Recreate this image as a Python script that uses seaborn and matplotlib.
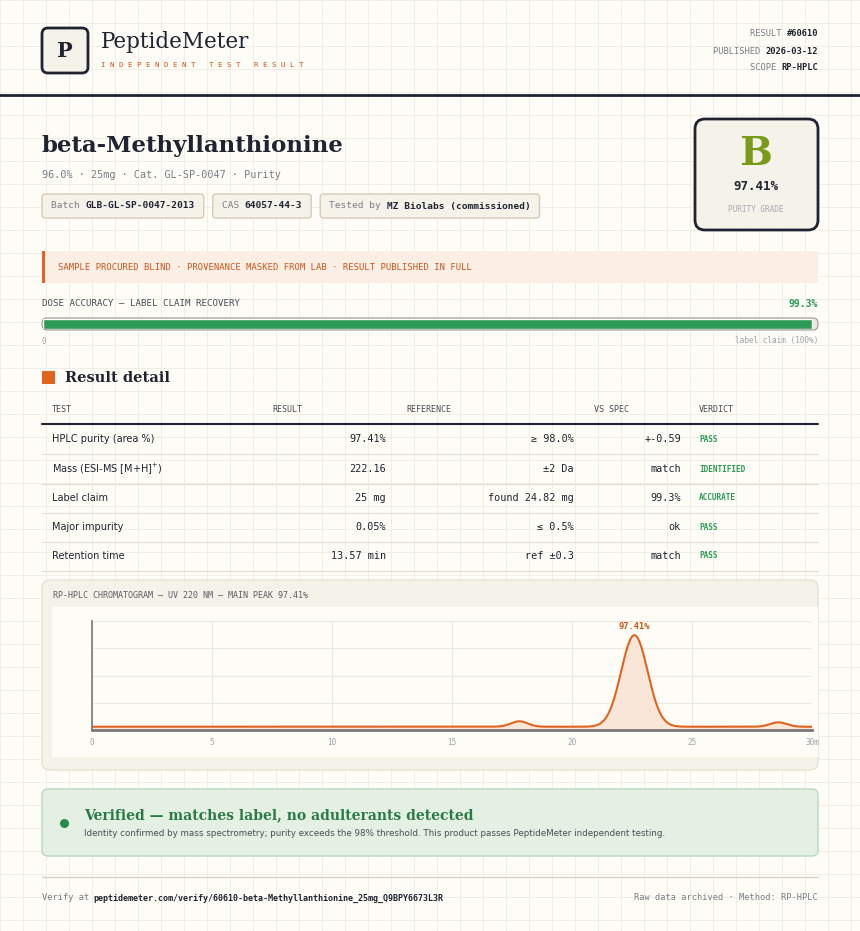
import numpy as np
import pandas as pd
import matplotlib
matplotlib.use("Agg")
import matplotlib.pyplot as plt
from matplotlib.patches import FancyBboxPatch, Rectangle
import seaborn as sns

sns.set_theme(style="white")
plt.rcParams['font.family'] = ['DejaVu Sans']

# ---------------- data ----------------
result_id = "#60610"
published = "2026-03-12"
scope = "RP-HPLC"
compound = "beta-Methyllanthionine"
subtitle = "96.0% · 25mg · Cat. GL-SP-0047 · Purity"
chips = [("Batch ", "GLB-GL-SP-0047-2013"), ("CAS ", "64057-44-3"), ("Tested by ", "MZ Biolabs (commissioned)")]
grade = "B"
purity = 97.41
dose_accuracy = 99.3
table_tests = ["HPLC purity (area %)", "Mass (ESI-MS [M+H]$^{+}$)", "Label claim", "Major impurity", "Retention time"]
table_results = ["97.41%", "222.16", "25 mg", "0.05%", "13.57 min"]
table_refs = ["≥ 98.0%", "±2 Da", "found 24.82 mg", "≤ 0.5%", "ref ±0.3"]
table_vs = ["+-0.59", "match", "99.3%", "ok", "match"]
table_verdicts = ["PASS", "IDENTIFIED", "ACCURATE", "PASS", "PASS"]
peak_centers = [17.8, 22.6, 28.6]
peak_heights = [5.0, 84.0, 4.0]
peak_widths = [0.35, 0.55, 0.35]
baseline = 3.0
x_ticks = [0, 5, 10, 15, 20, 25, 30]

DARK = "#1f2430"; ORANGE = "#c8561a"; LINE_OR = "#e0641e"; GRAY = "#7a7d85"
CARD = "#f5f2ea"; BG = "#fdfcf7"; GREEN = "#2e9a57"
MONO = "DejaVu Sans Mono"; SERIF = "DejaVu Serif"

fig = plt.figure(figsize=(8.6, 9.31), dpi=100, facecolor=BG)
ax = fig.add_axes([0, 0, 1, 1])
ax.set_xlim(0, 860); ax.set_ylim(931, 0); ax.axis("off")
for gx in np.arange(0, 861, 23):
    ax.axvline(gx, color="#f1eee6", lw=0.7, zorder=0)
for gy in np.arange(0, 932, 23):
    ax.axhline(gy, color="#f1eee6", lw=0.7, zorder=0)

def rbox(x, y, w, h, fc, ec, lw=1, r=4, z=1):
    ax.add_patch(FancyBboxPatch((x, y), w, h, boxstyle=f"round,pad=0,rounding_size={r}",
                                fc=fc, ec=ec, lw=lw, zorder=z))

# header
rbox(42, 28, 46, 45, CARD, DARK, lw=2, r=6)
ax.text(65, 51, "P", family=SERIF, weight="bold", fontsize=15, color=DARK, ha="center", va="center")
ax.text(101, 42, "PeptideMeter", family=SERIF, fontsize=15.5, color=DARK, va="center")
ax.text(101, 65, "I N D E P E N D E N T   T E S T   R E S U L T", family=MONO, fontsize=5.4, color=ORANGE, va="center")
for yy, lab, val in [(34, "RESULT ", result_id), (51, "PUBLISHED ", published), (67, "SCOPE ", scope)]:
    ax.text(818, yy, val, family=MONO, weight="bold", fontsize=6.3, color=DARK, ha="right", va="center")
    ax.text(818 - 6.3 * 0.6 * 1.39 * len(val), yy, lab, family=MONO, fontsize=6.3, color=GRAY, ha="right", va="center")
ax.plot([0, 860], [95, 95], color=DARK, lw=2)

# title block
ax.text(42, 146, compound, family=SERIF, weight="bold", fontsize=16.5, color=DARK, va="center")
ax.text(42, 175, subtitle, family=MONO, fontsize=7.3, color=GRAY, va="center")
cx = 42
for lab, val in chips:
    w = (len(lab) + len(val)) * 5.75 + 18
    rbox(cx, 194, w, 24, CARD, "#d6ccb4", lw=1, r=3)
    ax.text(cx + 9, 206, lab, family=MONO, fontsize=6.8, color=GRAY, va="center")
    ax.text(cx + 9 + len(lab) * 5.75, 206, val, family=MONO, weight="bold", fontsize=6.8, color=DARK, va="center")
    cx += w + 9

rbox(695, 119, 123, 111, CARD, DARK, lw=2, r=10)
ax.text(756, 154, grade, family=SERIF, weight="bold", fontsize=28, color="#7a9a1a", ha="center", va="center")
ax.text(756, 187, f"{purity:.2f}%", family=MONO, weight="bold", fontsize=9, color=DARK, ha="center", va="center")
ax.text(756, 209, "PURITY GRADE", family=MONO, fontsize=5.6, color="#a8aab0", ha="center", va="center")

# banner
ax.add_patch(Rectangle((42, 251), 776, 32, fc="#fbeee4", ec="none", zorder=1))
ax.add_patch(Rectangle((42, 251), 3, 32, fc=LINE_OR, ec="none", zorder=2))
ax.text(58, 267, "SAMPLE PROCURED BLIND · PROVENANCE MASKED FROM LAB · RESULT PUBLISHED IN FULL",
        family=MONO, fontsize=6.4, color=ORANGE, va="center")

# dose accuracy bar via seaborn
ax.text(42, 304, "DOSE ACCURACY — LABEL CLAIM RECOVERY", family=MONO, fontsize=6.6, color="#4a4d55", va="center")
ax.text(818, 304, f"{dose_accuracy}%", family=MONO, weight="bold", fontsize=7, color=GREEN, ha="right", va="center")
rbox(42, 318, 776, 12, "#ebe7dc", "#9a9a9a", lw=0.8, r=5)
bax = fig.add_axes([43/860, 1-329/931, 774/860, 10/931])
bax.patch.set_alpha(0)
sns.barplot(x=[dose_accuracy], y=["dose"], orient="h", color=GREEN, width=1.0, ax=bax, saturation=1)
bax.set_xlim(0, 100); bax.axis("off")
ax.text(42, 341, "0", family=MONO, fontsize=5.6, color="#a0a2a8", va="center")
ax.text(818, 341, "label claim (100%)", family=MONO, fontsize=5.6, color="#a0a2a8", ha="right", va="center")

# result detail
ax.add_patch(Rectangle((42, 371), 13, 13, fc=LINE_OR, ec="none"))
ax.text(65, 378, "Result detail", family=SERIF, weight="bold", fontsize=10.5, color=DARK, va="center")
for xx, h in [(52, "TEST"), (272, "RESULT"), (406, "REFERENCE"), (594, "VS SPEC"), (699, "VERDICT")]:
    ax.text(xx, 410, h, family=MONO, fontsize=6, color="#4a4d55", va="center")
ax.plot([42, 818], [424, 424], color=DARK, lw=1.5)
row_y = [439, 469, 498, 527, 556]
for i, ry in enumerate(row_y):
    ax.text(52, ry, table_tests[i], fontsize=7, color=DARK, va="center")
    ax.text(386, ry, table_results[i], family=MONO, fontsize=7.3, color=DARK, ha="right", va="center")
    ax.text(574, ry, table_refs[i], family=MONO, fontsize=7.3, color=DARK, ha="right", va="center")
    ax.text(681, ry, table_vs[i], family=MONO, fontsize=7.3, color=DARK, ha="right", va="center")
    ax.text(699, ry, table_verdicts[i], family=MONO, weight="bold", fontsize=5.6, color=GREEN, va="center")
    ax.plot([42, 818], [ry + 15, ry + 15], color="#e2ddd0", lw=0.8)

# chromatogram card
rbox(42, 580, 776, 190, CARD, "#e6e1d4", lw=1, r=8)
ax.text(53, 596, "RP-HPLC CHROMATOGRAM — UV 220 NM — MAIN PEAK 97.41%", family=MONO, fontsize=6, color="#5a5d65", va="center")
ax.add_patch(Rectangle((52, 607), 766, 150, fc=BG, ec="none", zorder=1))
t = np.linspace(0, 30, 1200)
sig = np.full_like(t, baseline)
for c, h, w in zip(peak_centers, peak_heights, peak_widths):
    sig = sig + h * np.exp(-0.5 * ((t - c) / w) ** 2)
df = pd.DataFrame({"t": t, "s": sig})
cax = fig.add_axes([92/860, 1-730/931, 720/860, 109/931])
cax.set_facecolor(BG)
cax.fill_between(t, 0, sig, color="#f8e6d8", lw=0)
sns.lineplot(data=df, x="t", y="s", color=LINE_OR, lw=1.5, ax=cax)
cax.set_xlim(0, 30); cax.set_ylim(0, 100)
cax.set_xticks(x_ticks); cax.set_xticklabels([str(v) for v in x_ticks[:-1]] + ["30m"])
cax.set_yticks([25, 50, 75, 100]); cax.set_yticklabels([])
cax.grid(True, color="#ece8dc", lw=0.8)
cax.tick_params(axis="x", labelsize=5.5, colors="#a0a2a8", length=0, pad=6)
cax.tick_params(axis="y", length=0)
for lab in cax.get_xticklabels(): lab.set_family(MONO)
cax.set_xlabel(""); cax.set_ylabel("")
for s in ["top", "right"]: cax.spines[s].set_visible(False)
cax.spines["left"].set_color("#777"); cax.spines["bottom"].set_color("#777")
cax.spines["left"].set_linewidth(1.2); cax.spines["bottom"].set_linewidth(2)
imain = int(np.argmax(peak_heights))
cax.text(peak_centers[imain], baseline + peak_heights[imain] + 4, f"{purity:.2f}%", family=MONO,
         weight="bold", fontsize=6.2, color=ORANGE, ha="center", va="bottom")

# verified box
rbox(42, 789, 776, 67, "#e5f0e4", "#b8d8bd", lw=1, r=6)
ax.scatter([64], [823], s=30, color="#2a8a4c", zorder=3)
ax.text(84, 815, "Verified — matches label, no adulterants detected", family=SERIF, weight="bold",
        fontsize=10, color="#2a7a45", va="center")
ax.text(84, 834, "Identity confirmed by mass spectrometry; purity exceeds the 98% threshold. This product passes PeptideMeter independent testing.",
        fontsize=6.3, color="#4a4d55", va="center")

# footer
ax.plot([42, 818], [877, 877], color="#d8d3c6", lw=1)
ax.text(42, 898, "Verify at", family=MONO, fontsize=6.2, color=GRAY, va="center")
ax.text(93, 898, "peptidemeter.com/verify/60610-beta-Methyllanthionine_25mg_Q9BPY6673L3R",
        family=MONO, weight="bold", fontsize=6.0, color=DARK, va="center")
ax.text(818, 898, "Raw data archived · Method: RP-HPLC", family=MONO, fontsize=6.2, color=GRAY, ha="right", va="center")

fig.savefig("out.png", dpi=100, facecolor=BG)
